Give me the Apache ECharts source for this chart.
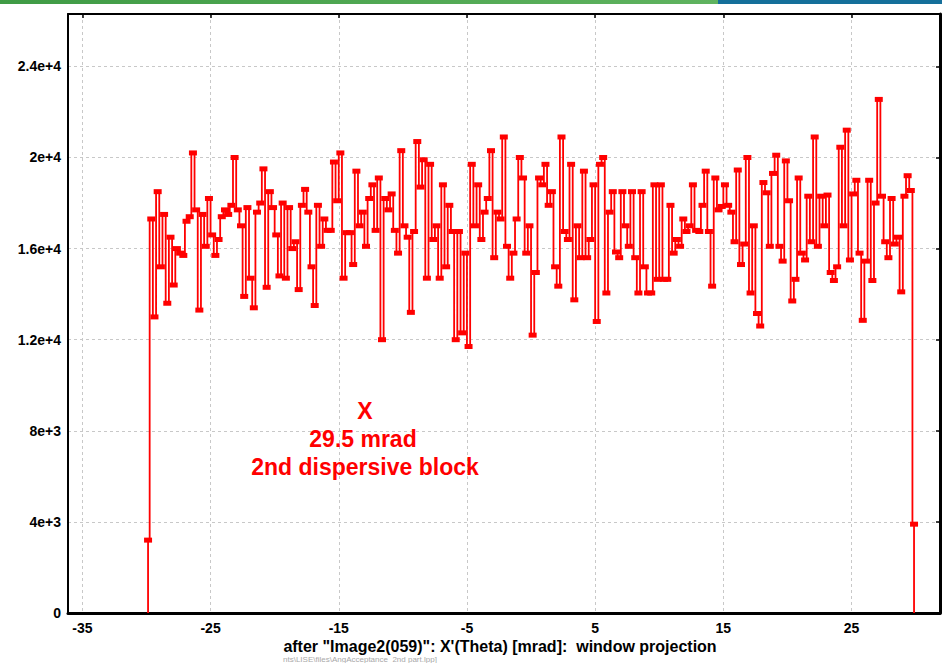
<!DOCTYPE html>
<html>
<head>
<meta charset="utf-8">
<script src="https://cdn.jsdelivr.net/npm/echarts@6/dist/echarts.min.js"></script>
<style>
html,body{margin:0;padding:0;background:#fff;}
#chart{width:942px;height:663px;}
</style>
</head>
<body>
<div id="chart"></div>
<script>
// Histogram: 240 bins of 0.25 mrad from -30 to 30 mrad
const binStart = -30;
const binWidth = 0.25;
const counts = [
3200,17300,13000,18500,15200,17500,13600,16500,14400,16000,
15800,15700,17200,17400,20200,17700,13300,17500,16100,18200,
16600,15700,16400,17400,17700,17500,17900,20000,17700,17000,
13900,17800,14700,13400,17600,18000,19500,14300,18500,17800,
16600,14800,18000,14700,17800,16000,16300,14200,17900,18600,
17600,15200,13500,17900,16100,17300,16800,16800,19800,18100,
20200,14700,16700,16700,15300,19400,17000,17600,16100,18200,
18800,16800,19100,12000,18200,17700,18400,16800,15800,20300,
17000,16500,13200,16750,20700,18700,19900,14700,19700,16400,
17000,14700,18800,15200,17900,16750,12000,16750,12300,15800,
11700,19700,17000,18800,16400,17600,18200,20300,15600,17600,
17300,20900,16100,14700,15800,17300,20000,19100,15800,17000,
12200,14950,19100,18800,19700,17900,18500,15200,14350,20900,
16750,16400,19700,13750,17000,15600,19400,15600,16400,18800,
12800,19700,20000,14050,17600,18500,15850,15600,18500,17000,
16100,18500,15600,14050,18500,15200,14050,14050,18800,14650,
18800,14650,14650,17900,15800,16400,16100,17300,16750,17000,
18800,16800,16750,17900,19400,16750,14350,19100,17700,17850,
18800,17900,17600,16300,19450,15300,16200,20000,14050,17000,
13150,12600,18900,18450,16100,19300,20100,16100,15450,19850,
18100,13700,14650,19100,15800,15500,18300,16300,20900,16100,
18300,17000,18350,14950,14600,15200,20450,17000,21200,15500,
18400,19000,15800,12850,15450,19000,14600,18000,22550,18300,
16300,15600,18200,16200,16500,14100,18300,19200,18550,3900
];
const xTicks = [-35, -25, -15, -5, 5, 15, 25];
const yTicks = [0, 4000, 8000, 12000, 16000, 20000, 24000];
const yTickLabels = ['0', '4e+3', '8e+3', '1.2e+4', '1.6e+4', '2e+4', '2.4e+4'];
const xTitle = 'after "Image2(059)": X\'(Theta) [mrad]:  window projection';
const noteLines = ['X', '29.5 mrad', '2nd dispersive block'];
const watermark = 'nts\\LISE\\files\\AngAcceptance_2nd part.lpp]';

const centers = counts.map((c, i) => binStart + binWidth * (i + 0.5));
const seriesData = [{value: [centers[0], 0], symbol: 'none'}]
  .concat(counts.map((c, i) => [centers[i], c]))
  .concat([{value: [centers[centers.length - 1], 0], symbol: 'none'}]);

const chart = echarts.init(document.getElementById('chart'), null, {renderer: 'svg'});
const FONT = "'Liberation Sans Narrow','Liberation Sans',Arial,sans-serif";
const grid = {left: 68, right: 2, top: 14, bottom: 50};
const xMin = -36.12, xMax = 31.9, yMin = 0, yMax = 26300;

chart.setOption({
  animation: false,
  backgroundColor: '#fff',
  grid: Object.assign({show: false}, grid),
  xAxis: [
    {
      type: 'value', min: xMin, max: xMax, position: 'bottom',
      axisLine: {show: true, onZero: false, lineStyle: {color: '#000', width: 3}},
      axisTick: {show: false, customValues: xTicks},
      axisLabel: {customValues: xTicks, color: '#000', fontFamily: FONT, fontSize: 14, fontWeight: 'bold', margin: 8},
      splitLine: {show: true, lineStyle: {color: '#c8c8c8', type: [3, 3], width: 1}}
    },
    {
      type: 'value', min: xMin, max: xMax, position: 'top',
      axisLine: {show: true, onZero: false, lineStyle: {color: '#000', width: 2}},
      axisTick: {show: true, inside: true, length: 4, customValues: xTicks, lineStyle: {color: '#000', width: 1.5}},
      axisLabel: {show: false},
      splitLine: {show: false}
    }
  ],
  yAxis: [
    {
      type: 'value', min: yMin, max: yMax, position: 'left',
      axisLine: {show: true, onZero: false, lineStyle: {color: '#000', width: 2}},
      axisTick: {show: false, customValues: yTicks},
      axisLabel: {customValues: yTicks, color: '#000', fontFamily: FONT, fontSize: 14, fontWeight: 'bold', margin: 7,
        formatter: v => yTickLabels[yTicks.indexOf(v)]},
      splitLine: {show: true, lineStyle: {color: '#c8c8c8', type: [3, 3], width: 1}}
    },
    {
      type: 'value', min: yMin, max: yMax, position: 'right',
      axisLine: {show: true, onZero: false, lineStyle: {color: '#000', width: 3}},
      axisTick: {show: true, inside: true, length: 4, customValues: yTicks, lineStyle: {color: '#000', width: 1.5}},
      axisLabel: {show: false},
      splitLine: {show: false}
    }
  ],
  series: [{
    type: 'line',
    xAxisIndex: 0, yAxisIndex: 0,
    step: 'middle',
    data: seriesData,
    symbol: 'rect',
    symbolSize: [8, 5],
    showAllSymbol: true,
    lineStyle: {color: '#ff0000', width: 1.8},
    itemStyle: {color: '#ff0000'},
    z: 5
  }],
  graphic: [
    {type: 'rect', left: 0, top: 0, z: 100, shape: {width: 718, height: 4},
      style: {fill: new echarts.graphic.LinearGradient(0, 0, 1, 0, [{offset: 0, color: '#3f9b45'}, {offset: 1, color: '#5fb35f'}])}},
    {type: 'rect', left: 718, top: 0, z: 100, shape: {width: 224, height: 4}, style: {fill: '#156f9a'}},
    {type: 'text', left: 283, top: 655, z: 1,
      style: {text: watermark, fill: '#a8a8a8', font: "8px 'Liberation Sans Narrow','Liberation Sans',sans-serif"}},
    {type: 'text', x: 500, y: 646, z: 10,
      style: {text: xTitle, fill: '#000', align: 'center', verticalAlign: 'middle',
        font: "bold 16px 'Liberation Sans Narrow','Liberation Sans',Arial,sans-serif"}},
    {type: 'text', x: 365, y: 411, z: 10,
      style: {text: noteLines[0], fill: '#ff0000', align: 'center', verticalAlign: 'middle', font: "bold 23px 'Liberation Sans',Arial,sans-serif"}},
    {type: 'text', x: 363, y: 439, z: 10,
      style: {text: noteLines[1], fill: '#ff0000', align: 'center', verticalAlign: 'middle', font: "bold 23px 'Liberation Sans',Arial,sans-serif"}},
    {type: 'text', x: 365, y: 467, z: 10,
      style: {text: noteLines[2], fill: '#ff0000', align: 'center', verticalAlign: 'middle', font: "bold 23px 'Liberation Sans',Arial,sans-serif"}}
  ]
});
</script>
</body>
</html>
